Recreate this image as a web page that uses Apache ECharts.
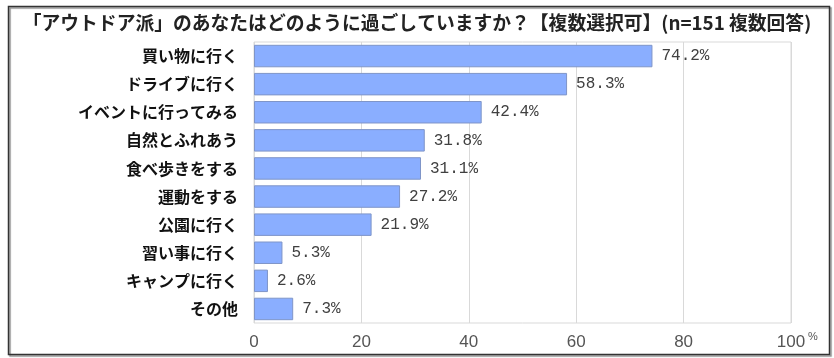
<!DOCTYPE html>
<html>
<head>
<meta charset="utf-8">
<script src="https://cdn.jsdelivr.net/npm/echarts@6/dist/echarts.min.js"></script>
<style>html,body{margin:0;padding:0;background:#fff;}#c{width:834px;height:358px;}</style>
</head>
<body>
<div id="c"></div>
<script>
const titleText = '「アウトドア派」のあなたはどのように過ごしていますか？【複数選択可】(n=151 複数回答)';
const categories = ['買い物に行く','ドライブに行く','イベントに行ってみる','自然とふれあう','食べ歩きをする','運動をする','公園に行く','習い事に行く','キャンプに行く','その他'];
const values = [74.2, 58.3, 42.4, 31.8, 31.1, 27.2, 21.9, 5.3, 2.6, 7.3];
const xTicks = [0, 20, 40, 60, 80, 100];
const unitLabel = '%';

const chart = echarts.init(document.getElementById('c'), null, {renderer: 'canvas'});
chart.setOption({
  animation: false,
  backgroundColor: '#fff',
  title: {
    text: titleText,
    left: 'center',
    top: 8,
    textStyle: {fontFamily: 'Noto Sans CJK JP', fontSize: 18.8, fontWeight: 'bold', color: '#222'}
  },
  grid: {left: 254, right: 43, top: 42, height: 281, show: true, borderColor: '#d9d9d9', borderWidth: 1},
  xAxis: {
    type: 'value', min: xTicks[0], max: xTicks[xTicks.length - 1], interval: 20,
    axisLine: {show: false}, axisTick: {show: false},
    splitLine: {lineStyle: {color: '#d9d9d9', width: 1}},
    axisLabel: {fontFamily: 'Liberation Sans', fontSize: 17, color: '#555', margin: 11}
  },
  yAxis: {
    type: 'category', data: categories, inverse: true,
    axisLine: {show: false}, axisTick: {show: false},
    axisLabel: {fontFamily: 'Noto Sans CJK JP', fontSize: 16, fontWeight: 'bold', color: '#111', margin: 16}
  },
  series: [{
    type: 'bar', data: values, barCategoryGap: '20%',
    itemStyle: {color: '#8AAEFF', borderColor: '#7F95C8', borderWidth: 1},
    label: {show: true, position: 'right', distance: 9,
      formatter: p => p.value.toFixed(1) + '%',
      fontFamily: 'Liberation Mono', fontSize: 16, color: '#404040'}
  }],
  graphic: [
    {type: 'rect', left: 6, top: 4, shape: {width: 821, height: 348},
      style: {fill: 'none', stroke: '#333', lineWidth: 1.5, shadowColor: 'rgba(0,0,0,0.45)', shadowOffsetX: 1.5, shadowOffsetY: 1.5, shadowBlur: 1}, silent: true, z: 100},
    {type: 'text', left: 808, top: 331, style: {text: unitLabel, fontFamily: 'Liberation Sans', fontSize: 11, fill: '#555'}}
  ]
});
</script>
</body>
</html>
